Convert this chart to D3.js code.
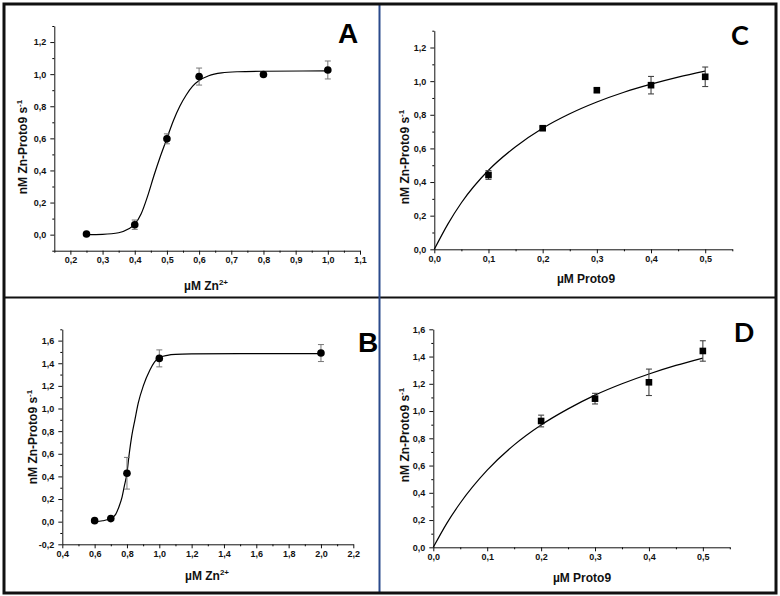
<!DOCTYPE html>
<html>
<head>
<meta charset="utf-8">
<script src="https://cdn.jsdelivr.net/npm/d3@7"></script>
<style>
  html, body { margin: 0; padding: 0; background: #fff; }
  svg { display: block; font-family: "Liberation Sans", Arial, sans-serif; }
</style>
</head>
<body>
<svg id="chart" width="780" height="596"></svg>
<script>
// ---------------- DATA ----------------
// Panel A : rate vs Zn2+ (sigmoidal)
const aX = [0.25, 0.4, 0.5, 0.6, 0.8, 1.0];
const aY = [0.004, 0.062, 0.597, 0.985, 0.998, 1.026];
const aErr = [0.01, 0.029, 0.031, 0.053, 0.01, 0.056];
const aFitX = [0.25, 0.30, 0.35, 0.38, 0.40, 0.42, 0.44, 0.46, 0.48, 0.50, 0.52, 0.54, 0.56, 0.58, 0.60, 0.63, 0.67, 0.72, 0.80, 1.00];
const aFitY = [0.0, 0.002, 0.012, 0.035, 0.065, 0.13, 0.24, 0.37, 0.49, 0.60, 0.71, 0.80, 0.87, 0.925, 0.96, 0.99, 1.008, 1.015, 1.018, 1.02];
const aXTicks = [0.2, 0.3, 0.4, 0.5, 0.6, 0.7, 0.8, 0.9, 1.0, 1.1];
const aXMinor = [0.15, 0.25, 0.35, 0.45, 0.55, 0.65, 0.75, 0.85, 0.95, 1.05];
const aYTicks = [0.0, 0.2, 0.4, 0.6, 0.8, 1.0, 1.2];
const aYMinor = [-0.1, 0.1, 0.3, 0.5, 0.7, 0.9, 1.1, 1.3];

// Panel B : rate vs Zn2+ (sigmoidal)
const bX = [0.6, 0.7, 0.8, 1.0, 2.0];
const bY = [0.009, 0.027, 0.428, 1.443, 1.49];
const bErr = [0.01, 0.01, 0.14, 0.075, 0.075];
const bFitX = [0.6, 0.65, 0.7, 0.73, 0.75, 0.77, 0.783, 0.8, 0.814, 0.83, 0.849, 0.87, 0.901, 0.942, 0.97, 1.0, 1.05, 1.1, 1.2, 1.5, 2.0];
const bFitY = [0.0, 0.008, 0.03, 0.065, 0.13, 0.22, 0.31, 0.43, 0.60, 0.76, 0.90, 1.05, 1.20, 1.34, 1.41, 1.45, 1.47, 1.478, 1.482, 1.485, 1.485];
const bXTicks = [0.4, 0.6, 0.8, 1.0, 1.2, 1.4, 1.6, 1.8, 2.0, 2.2];
const bXMinor = [0.5, 0.7, 0.9, 1.1, 1.3, 1.5, 1.7, 1.9, 2.1];
const bYTicks = [-0.2, 0.0, 0.2, 0.4, 0.6, 0.8, 1.0, 1.2, 1.4, 1.6];
const bYMinor = [-0.1, 0.1, 0.3, 0.5, 0.7, 0.9, 1.1, 1.3, 1.5, 1.7];

// Panel C : rate vs Proto9 (hyperbolic)
const cX = [0.1, 0.2, 0.3, 0.4, 0.5];
const cY = [0.442, 0.72, 0.946, 0.976, 1.026];
const cErr = [0.026, 0.008, 0.012, 0.052, 0.058];
const cFitX = [0, 0.025, 0.05, 0.1, 0.15, 0.2, 0.25, 0.3, 0.35, 0.4, 0.45, 0.5];
const cFitY = [0, 0.15, 0.277, 0.47, 0.61, 0.72, 0.806, 0.876, 0.934, 0.982, 1.024, 1.06];
const cXTicks = [0.0, 0.1, 0.2, 0.3, 0.4, 0.5];
const cXMinor = [0.05, 0.15, 0.25, 0.35, 0.45, 0.55];
const cYTicks = [0.0, 0.2, 0.4, 0.6, 0.8, 1.0, 1.2];
const cYMinor = [0.1, 0.3, 0.5, 0.7, 0.9, 1.1, 1.3];

// Panel D : rate vs Proto9 (hyperbolic)
const dX = [0.2, 0.3, 0.4, 0.5];
const dY = [0.927, 1.091, 1.211, 1.441];
const dErr = [0.043, 0.039, 0.097, 0.075];
const dFitX = [0, 0.025, 0.05, 0.1, 0.15, 0.2, 0.25, 0.3, 0.35, 0.4, 0.45, 0.5];
const dFitY = [0, 0.176, 0.325, 0.566, 0.752, 0.898, 1.016, 1.117, 1.2, 1.272, 1.335, 1.389];
const dXTicks = [0.0, 0.1, 0.2, 0.3, 0.4, 0.5];
const dXMinor = [0.05, 0.15, 0.25, 0.35, 0.45, 0.55];
const dYTicks = [0.0, 0.2, 0.4, 0.6, 0.8, 1.0, 1.2, 1.4, 1.6];
const dYMinor = [0.1, 0.3, 0.5, 0.7, 0.9, 1.1, 1.3, 1.5];

// ---------------- DRAWING ----------------
const svg = d3.select("#chart");
const fmt = v => d3.format(".1f")(v).replace(".", ",").replace("\u2212", "-");

function panel(p) {
  const x = d3.scaleLinear().domain(p.xDomain).range(p.xRange);
  const y = d3.scaleLinear().domain(p.yDomain).range(p.yRange);
  const g = svg.append("g");

  // axes: minor ticks
  g.append("g").attr("transform", `translate(0,${p.yRange[0]})`)
    .call(d3.axisBottom(x).tickValues(p.xMinor).tickSize(2).tickFormat(""))
    .call(s => s.select(".domain").remove());
  g.append("g").attr("transform", `translate(${p.xRange[0]},0)`)
    .call(d3.axisLeft(y).tickValues(p.yMinor).tickSize(2).tickFormat(""))
    .call(s => s.select(".domain").remove());
  // major
  const xa = g.append("g").attr("transform", `translate(0,${p.yRange[0]})`)
    .call(d3.axisBottom(x).tickValues(p.xTicks).tickSize(4).tickPadding(2).tickFormat(fmt).tickSizeOuter(0));
  const ya = g.append("g").attr("transform", `translate(${p.xRange[0]},0)`)
    .call(d3.axisLeft(y).tickValues(p.yTicks).tickSize(4).tickPadding(4).tickFormat(fmt).tickSizeOuter(0));
  [xa, ya].forEach(a => {
    a.selectAll("text").attr("font-size", 9).attr("font-weight", "bold").attr("fill", "#111")
      .attr("font-family", "'Liberation Sans', Arial, sans-serif");
    a.selectAll("line,path").attr("stroke", "#111");
  });

  // fit curve
  const line = d3.line().x(d => x(d[0])).y(d => y(d[1])).curve(d3.curveMonotoneX);
  g.append("path").datum(p.fitX.map((v, i) => [v, p.fitY[i]]))
    .attr("d", line).attr("fill", "none").attr("stroke", "#000").attr("stroke-width", 1.2);

  // error bars
  const pts = p.px.map((v, i) => ({x: v, y: p.py[i], e: p.pe[i]}));
  const eb = g.append("g").attr("stroke", p.errColor).attr("stroke-width", p.errWidth);
  pts.forEach(d => {
    const cx = x(d.x), y1 = y(d.y + d.e), y2 = y(d.y - d.e);
    eb.append("line").attr("x1", cx).attr("x2", cx).attr("y1", y1).attr("y2", y2);
    eb.append("line").attr("x1", cx - 3).attr("x2", cx + 3).attr("y1", y1).attr("y2", y1);
    eb.append("line").attr("x1", cx - 3).attr("x2", cx + 3).attr("y1", y2).attr("y2", y2);
  });

  // markers
  if (p.marker === "circle") {
    g.selectAll("circle.pt").data(pts).join("circle")
      .attr("cx", d => x(d.x)).attr("cy", d => y(d.y)).attr("r", 3.8).attr("fill", "#000");
  } else {
    g.selectAll("rect.pt").data(pts).join("rect")
      .attr("x", d => x(d.x) - 3.3).attr("y", d => y(d.y) - 3.3)
      .attr("width", 6.6).attr("height", 6.6).attr("fill", "#000");
  }

  // axis titles
  const xt = g.append("text").attr("x", p.xTitlePos[0]).attr("y", p.xTitlePos[1])
    .attr("text-anchor", "middle").attr("font-size", 12).attr("font-weight", "bold").attr("fill", "#111");
  xt.append("tspan").text(p.xTitle);
  if (p.xSup) xt.append("tspan").attr("font-size", 8).attr("dy", -5).text(p.xSup);

  const yt = g.append("text")
    .attr("transform", `translate(${p.yTitlePos[0]},${p.yTitlePos[1]}) rotate(-90)`)
    .attr("text-anchor", "middle").attr("font-size", 12).attr("font-weight", "bold").attr("fill", "#111");
  yt.append("tspan").text("nM Zn-Proto9 s");
  yt.append("tspan").attr("font-size", 8).attr("dy", -5).text("-1");

  // panel letter
  g.append("text").attr("x", p.letterPos[0]).attr("y", p.letterPos[1])
    .attr("text-anchor", "middle").attr("font-size", p.letterSize).attr("font-weight", "bold")
    .attr("font-family", p.letterFont).attr("fill", "#000").text(p.letter);
}

panel({
  px: aX, py: aY, pe: aErr, fitX: aFitX, fitY: aFitY,
  xTicks: aXTicks, xMinor: aXMinor, yTicks: aYTicks, yMinor: aYMinor,
  xDomain: [0.15, 1.1], yDomain: [-0.1, 1.3], xRange: [54.3, 360], yRange: [250.7, 26],
  marker: "circle", errColor: "#777", errWidth: 1,
  xTitle: "\u00B5M Zn", xSup: "2+", xTitlePos: [206, 290], yTitlePos: [27, 147],
  letter: "A", letterPos: [348, 43], letterSize: 28, letterFont: "'Liberation Sans', Arial, sans-serif"
});
panel({
  px: bX, py: bY, pe: bErr, fitX: bFitX, fitY: bFitY,
  xTicks: bXTicks, xMinor: bXMinor, yTicks: bYTicks, yMinor: bYMinor,
  xDomain: [0.4, 2.2], yDomain: [-0.2, 1.7], xRange: [62.3, 353.3], yRange: [544.3, 329.3],
  marker: "circle", errColor: "#777", errWidth: 1,
  xTitle: "\u00B5M Zn", xSup: "2+", xTitlePos: [207, 580], yTitlePos: [37, 437],
  letter: "B", letterPos: [368, 352], letterSize: 28, letterFont: "'Liberation Sans', Arial, sans-serif"
});
panel({
  px: cX, py: cY, pe: cErr, fitX: cFitX, fitY: cFitY,
  xTicks: cXTicks, xMinor: cXMinor, yTicks: cYTicks, yMinor: cYMinor,
  xDomain: [0, 0.55], yDomain: [0, 1.3], xRange: [434.3, 732.3], yRange: [249.3, 30.7],
  marker: "square", errColor: "#444", errWidth: 1.1,
  xTitle: "\u00B5M Proto9", xSup: null, xTitlePos: [586, 283], yTitlePos: [409, 157],
  letter: "C", letterPos: [740, 45], letterSize: 27, letterFont: "Lato, 'Open Sans', sans-serif"
});
panel({
  px: dX, py: dY, pe: dErr, fitX: dFitX, fitY: dFitY,
  xTicks: dXTicks, xMinor: dXMinor, yTicks: dYTicks, yMinor: dYMinor,
  xDomain: [0, 0.55], yDomain: [0, 1.6], xRange: [433.3, 729.8], yRange: [547.3, 329.3],
  marker: "square", errColor: "#444", errWidth: 1.1,
  xTitle: "\u00B5M Proto9", xSup: null, xTitlePos: [582, 582], yTitlePos: [409, 435],
  letter: "D", letterPos: [744, 342], letterSize: 27, letterFont: "Lato, 'Open Sans', sans-serif"
});

// frame & dividers
svg.append("line").attr("x1", 4).attr("x2", 776).attr("y1", 297.5).attr("y2", 297.5)
  .attr("stroke", "#111").attr("stroke-width", 2);
svg.append("line").attr("x1", 379.5).attr("x2", 379.5).attr("y1", 4).attr("y2", 593)
  .attr("stroke", "#2b4a8c").attr("stroke-width", 2);
svg.append("rect").attr("x", 4).attr("y", 4).attr("width", 772).attr("height", 589)
  .attr("fill", "none").attr("stroke", "#111").attr("stroke-width", 3);
</script>
</body>
</html>
